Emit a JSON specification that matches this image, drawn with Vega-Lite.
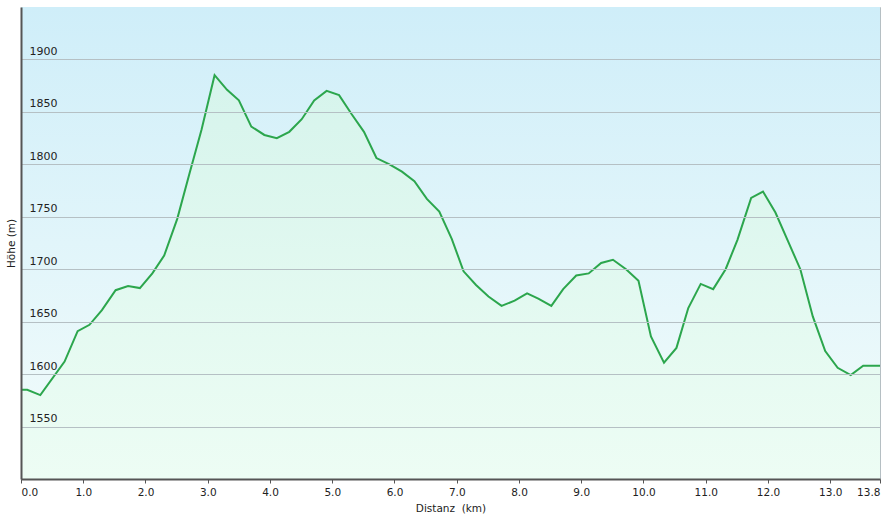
{
  "$schema": "https://vega.github.io/schema/vega-lite/v6.json",
  "width": 859,
  "height": 472,
  "autosize": {"type": "none"},
  "padding": {"left": 21, "top": 7, "right": 5, "bottom": 38},
  "background": "#ffffff",
  "config": {
    "font": "DejaVu Sans",
    "view": {"stroke": "#b5bfc3", "strokeWidth": 1}
  },
  "data": {"values": [
    {"km": 0.0, "hoehe": 1585},
    {"km": 0.1, "hoehe": 1585},
    {"km": 0.31, "hoehe": 1580},
    {"km": 0.7, "hoehe": 1612},
    {"km": 0.91, "hoehe": 1641},
    {"km": 1.1, "hoehe": 1647},
    {"km": 1.3, "hoehe": 1661},
    {"km": 1.52, "hoehe": 1680},
    {"km": 1.72, "hoehe": 1684},
    {"km": 1.91, "hoehe": 1682},
    {"km": 2.11, "hoehe": 1696},
    {"km": 2.3, "hoehe": 1713},
    {"km": 2.51, "hoehe": 1748},
    {"km": 2.71, "hoehe": 1792},
    {"km": 2.9, "hoehe": 1833},
    {"km": 3.11, "hoehe": 1885},
    {"km": 3.31, "hoehe": 1871},
    {"km": 3.5, "hoehe": 1861},
    {"km": 3.7, "hoehe": 1836},
    {"km": 3.91, "hoehe": 1828},
    {"km": 4.11, "hoehe": 1825},
    {"km": 4.31, "hoehe": 1831},
    {"km": 4.51, "hoehe": 1843},
    {"km": 4.71, "hoehe": 1861},
    {"km": 4.91, "hoehe": 1870},
    {"km": 5.11, "hoehe": 1866},
    {"km": 5.31, "hoehe": 1848},
    {"km": 5.51, "hoehe": 1831},
    {"km": 5.71, "hoehe": 1806},
    {"km": 5.92, "hoehe": 1800},
    {"km": 6.12, "hoehe": 1793},
    {"km": 6.32, "hoehe": 1784},
    {"km": 6.52, "hoehe": 1767},
    {"km": 6.72, "hoehe": 1755},
    {"km": 6.92, "hoehe": 1729},
    {"km": 7.11, "hoehe": 1698},
    {"km": 7.31, "hoehe": 1685},
    {"km": 7.51, "hoehe": 1674},
    {"km": 7.72, "hoehe": 1665},
    {"km": 7.93, "hoehe": 1670},
    {"km": 8.13, "hoehe": 1677},
    {"km": 8.31, "hoehe": 1672},
    {"km": 8.52, "hoehe": 1665},
    {"km": 8.71, "hoehe": 1681},
    {"km": 8.92, "hoehe": 1694},
    {"km": 9.12, "hoehe": 1696},
    {"km": 9.32, "hoehe": 1706},
    {"km": 9.51, "hoehe": 1709},
    {"km": 9.72, "hoehe": 1700},
    {"km": 9.92, "hoehe": 1689},
    {"km": 10.12, "hoehe": 1636},
    {"km": 10.33, "hoehe": 1611},
    {"km": 10.53, "hoehe": 1625},
    {"km": 10.72, "hoehe": 1663},
    {"km": 10.92, "hoehe": 1686},
    {"km": 11.12, "hoehe": 1681},
    {"km": 11.32, "hoehe": 1700},
    {"km": 11.51, "hoehe": 1728},
    {"km": 11.73, "hoehe": 1768},
    {"km": 11.92, "hoehe": 1774},
    {"km": 12.12, "hoehe": 1754},
    {"km": 12.32, "hoehe": 1727},
    {"km": 12.52, "hoehe": 1700},
    {"km": 12.72, "hoehe": 1655},
    {"km": 12.92, "hoehe": 1622},
    {"km": 13.12, "hoehe": 1606},
    {"km": 13.33, "hoehe": 1599},
    {"km": 13.53, "hoehe": 1608},
    {"km": 13.8, "hoehe": 1608}
  ]},
  "layer": [
    {
      "mark": {
        "type": "rect",
        "color": {
          "gradient": "linear", "x1": 0, "y1": 0, "x2": 0, "y2": 1,
          "stops": [
            {"offset": 0, "color": "#cfeef9"},
            {"offset": 1, "color": "#f3fcfb"}
          ]
        }
      },
      "encoding": {
        "x": {"datum": 0, "type": "quantitative"},
        "x2": {"datum": 13.8},
        "y": {"datum": 1950, "type": "quantitative"},
        "y2": {"datum": 1500}
      }
    },
    {
      "mark": {
        "type": "area",
        "line": false,
        "color": {
          "gradient": "linear", "x1": 0, "y1": 0, "x2": 0, "y2": 1,
          "stops": [
            {"offset": 0, "color": "#d6f4ec"},
            {"offset": 1, "color": "#edfdf4"}
          ]
        }
      },
      "encoding": {
        "x": {"field": "km", "type": "quantitative"},
        "y": {"field": "hoehe", "type": "quantitative"},
        "y2": {"datum": 1500}
      }
    },
    {
      "mark": {"type": "line", "color": "#2ca64d", "strokeWidth": 2},
      "encoding": {
        "x": {
          "field": "km", "type": "quantitative",
          "scale": {"domain": [0, 13.8], "nice": false, "zero": false},
          "axis": {
            "title": "Distanz\u00a0 (km)",
            "values": [0, 1, 2, 3, 4, 5, 6, 7, 8, 9, 10, 11, 12, 13, 13.8],
            "format": ".1f",
            "grid": false,
            "domainColor": "#555555",
            "domainWidth": 2,
            "tickColor": "#555555",
            "tickSize": 4,
            "labelFlush": true,
            "labelFontSize": 10.5,
            "labelColor": "#222222",
            "labelPadding": 4,
            "titleFontSize": 10.5,
            "titleFontWeight": "normal",
            "titleColor": "#222222",
            "titlePadding": 6,
            "zindex": 1
          }
        },
        "y": {
          "field": "hoehe", "type": "quantitative",
          "scale": {"domain": [1500, 1950], "nice": false, "zero": false},
          "axis": {
            "title": "Höhe (m)",
            "values": [1550, 1600, 1650, 1700, 1750, 1800, 1850, 1900],
            "format": "d",
            "grid": true,
            "gridColor": "#b5c0c4",
            "gridWidth": 1,
            "ticks": false,
            "domainColor": "#555555",
            "domainWidth": 2,
            "labelAlign": "left",
            "labelBaseline": "alphabetic",
            "labelPadding": -8,
            "labelOffset": -5,
            "labelFontSize": 11,
            "labelColor": "#222222",
            "titleFontSize": 10.5,
            "titleFontWeight": "normal",
            "titleColor": "#222222",
            "titleX": -5,
            "titleBaseline": "bottom",
            "zindex": 1
          }
        }
      }
    }
  ]
}
